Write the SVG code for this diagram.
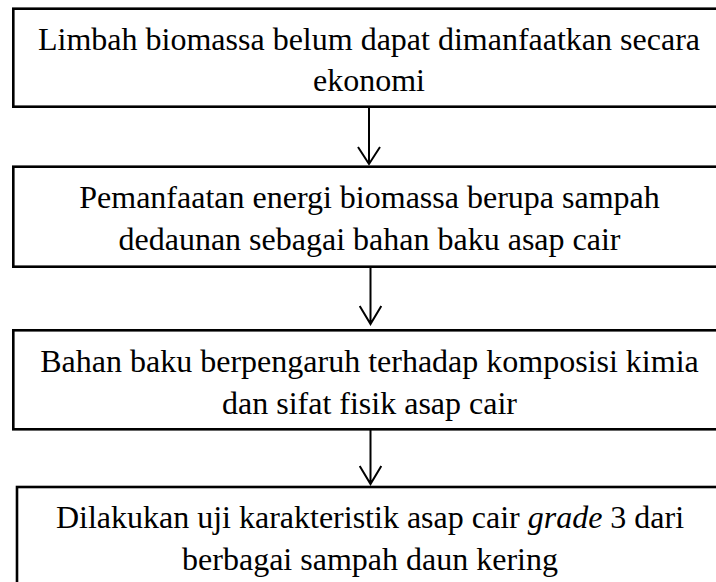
<svg xmlns="http://www.w3.org/2000/svg" width="716" height="582" viewBox="0 0 716 582">
<style>
.box{fill:#fff;stroke:#000;stroke-width:2.6}
.t{font-size:32px;fill:#000;text-anchor:middle}
.ln{stroke:#000;stroke-width:2;fill:none}
</style>
<rect width="716" height="582" fill="#fff"/>
<g font-family="Liberation Serif, Times New Roman, serif">
<g id="node1">
<rect class="box" x="13.3" y="8.7" width="712" height="98"/>
<text class="t" x="369" y="49.5">Limbah biomassa belum dapat dimanfaatkan secara</text>
<text class="t" x="369" y="91.3">ekonomi</text>
</g>
<g id="node2">
<rect class="box" x="13.3" y="166.7" width="712" height="100"/>
<text class="t" x="369.5" y="208.3">Pemanfaatan energi biomassa berupa sampah</text>
<text class="t" x="369.5" y="250">dedaunan sebagai bahan baku asap cair</text>
</g>
<g id="node3">
<rect class="box" x="13.3" y="330.3" width="712" height="99"/>
<text class="t" x="369.5" y="371.7">Bahan baku berpengaruh terhadap komposisi kimia</text>
<text class="t" x="369.5" y="413.5">dan sifat fisik asap cair</text>
</g>
<g id="node4">
<rect class="box" x="17" y="487" width="712" height="100"/>
<text class="t" x="370" y="528">Dilakukan uji karakteristik asap cair <tspan font-style="italic">grade</tspan> 3 dari</text>
<text class="t" x="370" y="570">berbagai sampah daun kering</text>
</g>
</g>
<g id="connectors">
<path class="ln" d="M369,106 V164 M358,147 L369,164 L380,147"/>
<path class="ln" d="M370.5,266.7 V324 M359.7,306 L370.5,324 L381.3,306"/>
<path class="ln" d="M370.5,429.3 V484 M359.7,466 L370.5,484 L381.3,466"/>
</g>
</svg>
